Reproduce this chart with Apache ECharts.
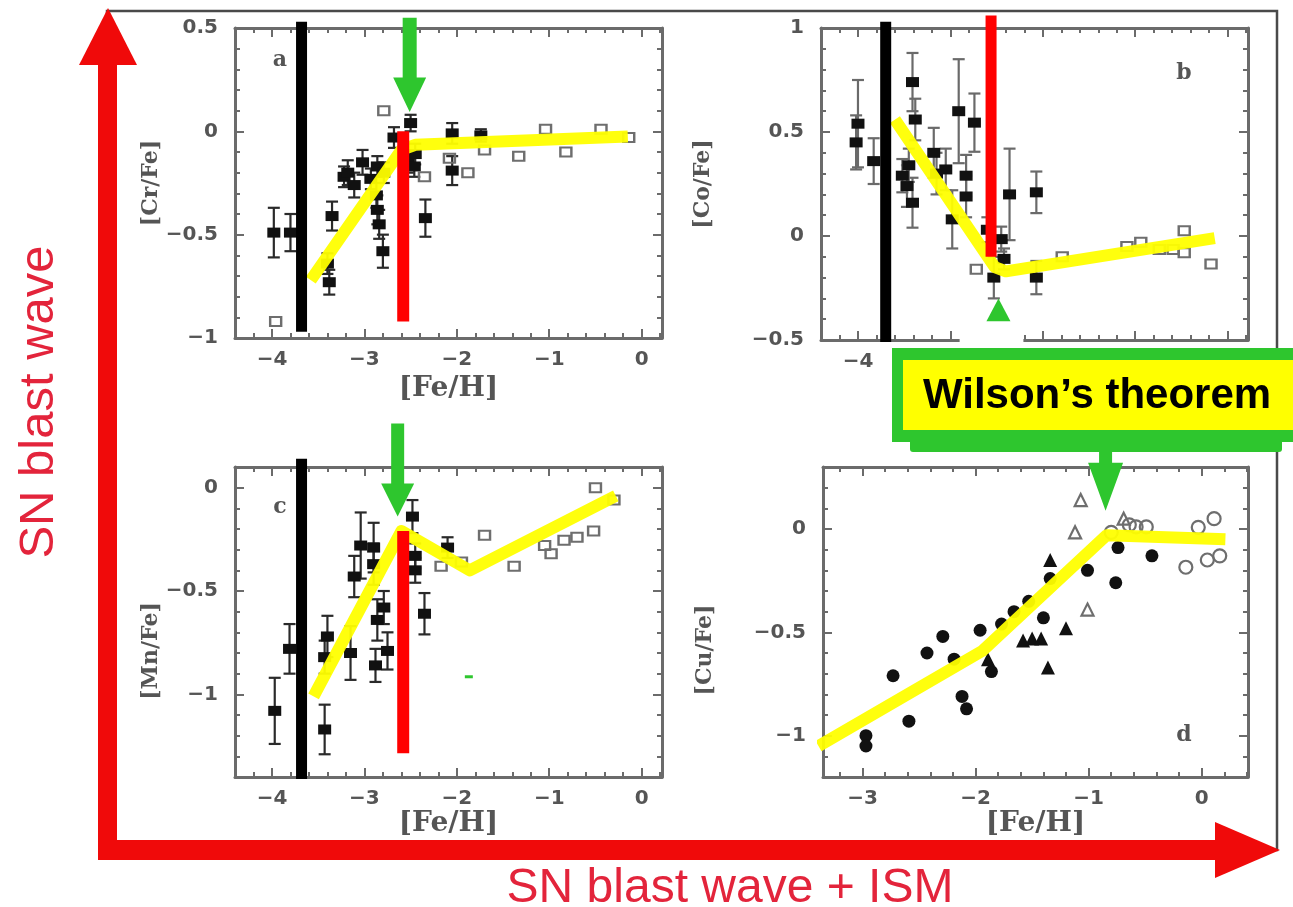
<!DOCTYPE html>
<html>
<head>
<meta charset="utf-8">
<script src="https://cdn.jsdelivr.net/npm/echarts@6/dist/echarts.min.js"></script>
<style>
  html, body { margin: 0; padding: 0; background: #ffffff; }
  #chart { width: 1293px; height: 907px; }
</style>
</head>
<body>
<div id="chart"></div>
<script>
// ---- Panel a: [Cr/Fe] vs [Fe/H]  (filled: [FeH, CrFe, err], open: [FeH, CrFe])
const crFilled = [
  [-3.98, -0.49, 0.12], [-3.80, -0.49, 0.09], [-3.38, -0.73, 0.06], [-3.40, -0.64, 0.05],
  [-3.35, -0.41, 0.07], [-3.22, -0.22, 0.05], [-3.18, -0.20, 0.06], [-3.02, -0.15, 0.06],
  [-3.11, -0.26, 0.06], [-2.93, -0.23, 0.05], [-2.86, -0.17, 0.05], [-2.79, -0.20, 0.05],
  [-2.87, -0.31, 0.06], [-2.86, -0.38, 0.07], [-2.84, -0.45, 0.07], [-2.80, -0.58, 0.08],
  [-2.68, -0.03, 0.05], [-2.50, 0.04, 0.04], [-2.53, -0.15, 0.05], [-2.45, -0.11, 0.05],
  [-2.46, -0.17, 0.05], [-2.34, -0.42, 0.09], [-2.05, -0.01, 0.05], [-2.05, -0.19, 0.07],
  [-1.74, -0.02, 0.03]
];
const crOpen = [
  [-3.96, -0.92], [-2.79, 0.10], [-2.35, -0.22], [-2.08, -0.13], [-1.88, -0.20],
  [-1.70, -0.09], [-1.33, -0.12], [-1.04, 0.01], [-0.82, -0.10], [-0.44, 0.01], [-0.14, -0.03]
];
const crTrend = [[-3.58, -0.72], [-2.60, -0.09], [-2.45, -0.065], [-0.15, -0.025]];

// ---- Panel b: [Co/Fe]
const coFilled = [
  [-4.00, 0.54, 0.21], [-4.02, 0.45, 0.13], [-3.83, 0.36, 0.11], [-3.41, 0.74, 0.14],
  [-3.38, 0.56, 0.10], [-3.18, 0.40, 0.12], [-3.15, 0.30, 0.10], [-3.45, 0.34, 0.08],
  [-3.52, 0.29, 0.08], [-3.47, 0.24, 0.10], [-3.41, 0.16, 0.12], [-2.91, 0.60, 0.25],
  [-2.74, 0.545, 0.14], [-3.05, 0.32, 0.10], [-2.83, 0.29, 0.10], [-2.83, 0.19, 0.10],
  [-2.98, 0.08, 0.14], [-2.60, 0.03, 0.06], [-2.45, -0.015, 0.06], [-2.42, -0.11, 0.05],
  [-2.53, -0.20, 0.10], [-2.36, 0.20, 0.22], [-2.07, 0.21, 0.10], [-2.07, -0.20, 0.08]
];
const coOpen = [
  [-2.72, -0.16], [-1.79, -0.10], [-1.09, -0.05], [-0.94, -0.03], [-0.74, -0.065],
  [-0.59, -0.065], [-0.47, 0.025], [-0.47, -0.08], [-0.18, -0.135]
];
const coTrend = [[-3.60, 0.56], [-2.52, -0.15], [-2.40, -0.17], [-0.14, -0.01]];

// ---- Panel c: [Mn/Fe]
const mnFilled = [
  [-3.97, -1.08, 0.16], [-3.81, -0.78, 0.12], [-3.43, -1.17, 0.12], [-3.40, -0.72, 0.10],
  [-3.43, -0.82, 0.08], [-3.15, -0.80, 0.13], [-3.11, -0.43, 0.10], [-3.04, -0.28, 0.16],
  [-2.90, -0.29, 0.12], [-2.90, -0.37, 0.10], [-2.86, -0.64, 0.10], [-2.79, -0.58, 0.08],
  [-2.75, -0.79, 0.09], [-2.88, -0.86, 0.08], [-2.48, -0.14, 0.08], [-2.45, -0.33, 0.06],
  [-2.45, -0.40, 0.06], [-2.35, -0.61, 0.10], [-2.10, -0.29, 0.05]
];
const mnOpen = [
  [-2.17, -0.38], [-1.95, -0.36], [-1.70, -0.23], [-1.38, -0.38], [-1.05, -0.28],
  [-0.98, -0.32], [-0.84, -0.255], [-0.70, -0.24], [-0.52, -0.21], [-0.50, 0.00], [-0.30, -0.06]
];
const mnTrend = [[-3.55, -1.01], [-2.60, -0.21], [-1.86, -0.40], [-0.28, -0.04]];

// ---- Panel d: [Cu/Fe]
const cuCircles = [
  [-2.97, -1.00], [-2.97, -1.05], [-2.73, -0.71], [-2.59, -0.93], [-2.43, -0.60],
  [-2.29, -0.52], [-2.19, -0.63], [-2.12, -0.81], [-2.08, -0.87], [-1.96, -0.49],
  [-1.86, -0.69], [-1.77, -0.46], [-1.66, -0.40], [-1.53, -0.35], [-1.40, -0.43],
  [-1.34, -0.24], [-1.01, -0.20], [-0.76, -0.26], [-0.74, -0.09], [-0.44, -0.13]
];
const cuTriangles = [
  [-1.89, -0.63], [-1.58, -0.54], [-1.50, -0.53], [-1.42, -0.53], [-1.36, -0.67],
  [-1.34, -0.15], [-1.20, -0.48]
];
const cuOpenTriangles = [[-1.07, 0.14], [-1.12, -0.016], [-1.01, -0.39], [-0.69, 0.05]];
const cuOpenCircles = [
  [-0.80, -0.016], [-0.64, 0.02], [-0.58, 0.01], [-0.49, 0.01], [-0.14, -0.185],
  [-0.03, 0.008], [0.05, -0.15], [0.11, 0.05], [0.16, -0.13]
];
const cuTrend = [[-3.39, -1.05], [-1.94, -0.59], [-0.84, -0.03], [0.21, -0.05]];

// ---- Tick labels
const feTicksWide = [-4, -3, -2, -1, 0];
const feTicksCu = [-3, -2, -1, 0];
const crTicks = [-1, -0.5, 0, 0.5];
const coTicks = [-0.5, 0, 0.5, 1];
const mnTicks = [-1, -0.5, 0];
const cuTicks = [-1, -0.5, 0];

// ---- Guide lines: [FeH, from, to]
const blackCutA = [[-3.68, 0.53, -0.97]];
const blackCutB = [[-3.70, 1.03, -0.51]];
const blackCutC = [[-3.68, 0.14, -1.41]];
const redCutA = [[-2.58, 0.00, -0.92]];
const redCutB = [[-2.56, 1.06, -0.10]];
const redCutC = [[-2.58, -0.21, -1.285]];
// Arrows: [FeH, tail, head base, tip]
const arrowA = [[-2.51, 0.55, 0.26, 0.094]];
const arrowB = [[-2.48, -0.41, -0.41, -0.30]];
const arrowC = [[-2.64, 0.31, 0.02, -0.14]];
const arrowD = [[-0.85, 0.417, 0.32, 0.088]];
const patchB = [[-2.90, -0.41, -2.21, -0.525]];
const dashC = [[-1.87, -0.915]];

const AX = '#6b6b6b';
const LABEL = '#555555';

function steps(min, max, step) {
  const out = [];
  for (let k = Math.ceil(min / step - 1e-9); k * step <= max + 1e-9; k++) out.push(+(k * step).toFixed(6));
  return out;
}
const fmt = v => (v < 0 ? '\u2212' : '') + String(Math.abs(v));

const hiddenLine = { show: false, onZero: false };
const frameLine = { show: true, onZero: false, lineStyle: { color: AX, width: 3 } };
const tick = (vals, len) => ({ show: true, inside: true, length: len, customValues: vals, lineStyle: { color: AX, width: 2 } });

function xAxesFor(g, min, max, labels, nameGap) {
  const base = { type: 'value', gridIndex: g, min, max, splitLine: { show: false } };
  const minor = steps(min, max, 0.2);
  return [
    Object.assign({}, base, {
      position: 'bottom', axisLine: frameLine, axisTick: tick(labels, 9),
      axisLabel: { show: true, customValues: labels, formatter: fmt, margin: 12, color: LABEL,
        fontFamily: 'DejaVu Sans', fontWeight: 'bold', fontSize: 20 },
      name: '[Fe/H]', nameLocation: 'middle', nameGap,
      nameTextStyle: { color: LABEL, fontFamily: 'DejaVu Serif', fontWeight: 'bold', fontSize: 28 }
    }),
    Object.assign({}, base, { position: 'bottom', axisLine: hiddenLine, axisTick: tick(minor, 5), axisLabel: { show: false } }),
    Object.assign({}, base, { position: 'top', axisLine: frameLine, axisTick: tick(labels, 9), axisLabel: { show: false } }),
    Object.assign({}, base, { position: 'top', axisLine: hiddenLine, axisTick: tick(minor, 5), axisLabel: { show: false } })
  ];
}
function yAxesFor(g, min, max, labels, name, nameGap, namePad) {
  const base = { type: 'value', gridIndex: g, min, max, splitLine: { show: false } };
  const minor = steps(min, max, 0.1);
  return [
    Object.assign({}, base, {
      position: 'left', axisLine: frameLine, axisTick: tick(labels, 9),
      axisLabel: { show: true, customValues: labels, formatter: fmt, margin: 17, color: LABEL,
        fontFamily: 'DejaVu Sans', fontWeight: 'bold', fontSize: 20 },
      name, nameLocation: 'middle', nameGap,
      nameTextStyle: { color: LABEL, fontFamily: 'DejaVu Serif', fontWeight: 'bold', fontSize: 22, padding: namePad }
    }),
    Object.assign({}, base, { position: 'left', axisLine: hiddenLine, axisTick: tick(minor, 5), axisLabel: { show: false } }),
    Object.assign({}, base, { position: 'right', axisLine: frameLine, axisTick: tick(labels, 9), axisLabel: { show: false } }),
    Object.assign({}, base, { position: 'right', axisLine: hiddenLine, axisTick: tick(minor, 5), axisLabel: { show: false } })
  ];
}

function onGrid(g, s) { return Object.assign({ xAxisIndex: g * 4, yAxisIndex: g * 4 }, s); }

function errorBars(g, data, color) {
  return onGrid(g, {
    type: 'custom', data, z: 2, silent: true,
    renderItem(params, api) {
      const x = api.value(0), y = api.value(1), e = api.value(2);
      const hi = api.coord([x, y + e]), lo = api.coord([x, y - e]);
      const st = { stroke: color, lineWidth: 2.2 };
      const cap = 6;
      return { type: 'group', children: [
        { type: 'line', shape: { x1: hi[0], y1: hi[1], x2: lo[0], y2: lo[1] }, style: st },
        { type: 'line', shape: { x1: hi[0] - cap, y1: hi[1], x2: hi[0] + cap, y2: hi[1] }, style: st },
        { type: 'line', shape: { x1: lo[0] - cap, y1: lo[1], x2: lo[0] + cap, y2: lo[1] }, style: st }
      ] };
    }
  });
}
function filledMarks(g, data, symbol, size) {
  return onGrid(g, { type: 'scatter', data, symbol, symbolSize: size, z: 3, silent: true,
    itemStyle: { color: '#111111', opacity: 1 } });
}
function openMarks(g, data, symbol, size) {
  return onGrid(g, { type: 'scatter', data, symbol, symbolSize: size, z: 3, silent: true,
    itemStyle: { color: 'rgba(255,255,255,0)', borderColor: '#6e6e6e', borderWidth: 2.2, opacity: 1 } });
}
function trend(g, data) {
  return onGrid(g, { type: 'line', data, symbol: 'none', z: 4, clip: false, silent: true,
    lineStyle: { color: '#ffff00', width: 12, join: 'round', cap: 'butt', opacity: 0.95 } });
}
function cut(g, data, color, width) {
  return onGrid(g, {
    type: 'custom', data, z: 5, silent: true,
    renderItem(params, api) {
      const a = api.coord([api.value(0), api.value(1)]);
      const b = api.coord([api.value(0), api.value(2)]);
      return { type: 'rect', shape: { x: a[0] - width / 2, y: Math.min(a[1], b[1]), width, height: Math.abs(b[1] - a[1]) },
        style: { fill: color } };
    }
  });
}
function arrow(g, data, shaftW, headW) {
  return onGrid(g, {
    type: 'custom', data, z: 6, silent: true,
    renderItem(params, api) {
      const x = api.value(0);
      const t = api.coord([x, api.value(1)]), b = api.coord([x, api.value(2)]), p = api.coord([x, api.value(3)]);
      const cx = t[0], s = shaftW / 2, h = headW / 2;
      return { type: 'polygon', shape: { points: [
        [cx - s, t[1]], [cx + s, t[1]], [cx + s, b[1]], [cx + h, b[1]], [p[0], p[1]], [cx - h, b[1]], [cx - s, b[1]]
      ] }, style: { fill: '#2ec62e' } };
    }
  });
}
function patch(g, data) {
  return onGrid(g, {
    type: 'custom', data, z: 5, silent: true,
    renderItem(params, api) {
      const a = api.coord([api.value(0), api.value(1)]);
      const b = api.coord([api.value(2), api.value(3)]);
      return { type: 'rect', shape: { x: a[0], y: a[1], width: b[0] - a[0], height: b[1] - a[1] }, style: { fill: '#ffffff' } };
    }
  });
}
function dash(g, data) {
  return onGrid(g, {
    type: 'custom', data, z: 6, silent: true,
    renderItem(params, api) {
      const c = api.coord([api.value(0), api.value(1)]);
      return { type: 'rect', shape: { x: c[0] - 4, y: c[1] - 1.5, width: 8, height: 3 }, style: { fill: '#2ec62e' } };
    }
  });
}

const grids = [
  { left: 235, top: 28, width: 427, height: 310 },
  { left: 821, top: 28, width: 427, height: 312 },
  { left: 235, top: 467, width: 427, height: 310 },
  { left: 823, top: 467, width: 425, height: 310 }
];

const xAxis = [].concat(
  xAxesFor(0, -4.4, 0.22, feTicksWide, 37),
  xAxesFor(1, -4.4, 0.22, feTicksWide, 37),
  xAxesFor(2, -4.4, 0.22, feTicksWide, 33),
  xAxesFor(3, -3.35, 0.41, feTicksCu, 33)
);
const yAxis = [].concat(
  yAxesFor(0, -1, 0.5, crTicks, '[Cr/Fe]', 71, [0, 0, 0, 0]),
  yAxesFor(1, -0.5, 1, coTicks, '[Co/Fe]', 107, [0, 0, 0, 0]),
  yAxesFor(2, -1.4, 0.1, mnTicks, '[Mn/Fe]', 71, [0, 58, 0, 0]),
  yAxesFor(3, -1.2, 0.3, cuTicks, '[Cu/Fe]', 107, [0, 56, 0, 0])
);

const series = [
  // a
  errorBars(0, crFilled, '#2a2a2a'),
  filledMarks(0, crFilled, 'rect', [13, 10]),
  openMarks(0, crOpen, 'rect', [11, 9]),
  trend(0, crTrend),
  cut(0, blackCutA, '#000000', 11),
  cut(0, redCutA, '#ff0000', 12),
  arrow(0, arrowA, 14, 33),
  // b
  errorBars(1, coFilled, '#6a6a6a'),
  filledMarks(1, coFilled, 'rect', [13, 10]),
  openMarks(1, coOpen, 'rect', [11, 9]),
  trend(1, coTrend),
  cut(1, blackCutB, '#000000', 11),
  cut(1, redCutB, '#ff0000', 11),
  patch(1, patchB),
  arrow(1, arrowB, 0, 24),
  // c
  errorBars(2, mnFilled, '#2a2a2a'),
  filledMarks(2, mnFilled, 'rect', [13, 10]),
  openMarks(2, mnOpen, 'rect', [11, 9]),
  trend(2, mnTrend),
  cut(2, blackCutC, '#000000', 11),
  cut(2, redCutC, '#ff0000', 12),
  arrow(2, arrowC, 13, 33),
  dash(2, dashC),
  // d
  filledMarks(3, cuCircles, 'circle', 13),
  filledMarks(3, cuTriangles, 'triangle', 14),
  openMarks(3, cuOpenTriangles, 'triangle', 12),
  openMarks(3, cuOpenCircles, 'circle', 13),
  trend(3, cuTrend),
  arrow(3, arrowD, 13, 35)
];

const RED = '#f00a0a';
const letter = (t, x, y) => ({ type: 'text', z: 10, x, y,
  style: { text: t, fill: '#555', fontFamily: 'DejaVu Serif', fontWeight: 'bold', fontSize: 22, align: 'center', verticalAlign: 'middle' } });
const graphic = { elements: [
  // outer frame
  { type: 'rect', z: 1, shape: { x: 107, y: 11, width: 1170, height: 839 }, style: { fill: 'none', stroke: '#4a4a4a', lineWidth: 2.5 } },
  // panel letters
  letter('a', 280, 60), letter('b', 1184, 73), letter('c', 280, 507), letter('d', 1184, 735),
  // big red axes
  { type: 'rect', z: 50, shape: { x: 98, y: 60, width: 19, height: 800 }, style: { fill: RED } },
  { type: 'polygon', z: 50, shape: { points: [[108, 8], [137, 65], [79, 65]] }, style: { fill: RED } },
  { type: 'rect', z: 50, shape: { x: 98, y: 840, width: 1120, height: 20 }, style: { fill: RED } },
  { type: 'polygon', z: 50, shape: { points: [[1215, 822], [1280, 850], [1215, 878]] }, style: { fill: RED } },
  { type: 'text', z: 50, x: 39, y: 402, rotation: Math.PI / 2,
    style: { text: 'SN blast wave', fill: '#e3243b', fontFamily: 'Liberation Sans', fontSize: 49, align: 'center', verticalAlign: 'middle' } },
  { type: 'text', z: 50, x: 730, y: 889,
    style: { text: 'SN blast wave + ISM', fill: '#e3243b', fontFamily: 'Liberation Sans', fontSize: 48, align: 'center', verticalAlign: 'middle' } },
  // callout box
  { type: 'rect', z: 60, shape: { x: 910, y: 372, width: 372, height: 80, r: 3 }, style: { fill: '#2ec62e' } },
  { type: 'rect', z: 61, shape: { x: 892, y: 348, width: 420, height: 94 }, style: { fill: '#2ec62e' } },
  { type: 'rect', z: 62, shape: { x: 903, y: 360, width: 400, height: 70 }, style: { fill: '#ffff00' } },
  { type: 'text', z: 63, x: 923, y: 396,
    style: { text: 'Wilson\u2019s theorem', fill: '#000', fontFamily: 'Liberation Sans', fontWeight: 'bold', fontSize: 42, align: 'left', verticalAlign: 'middle' } }
] };

const chart = echarts.init(document.getElementById('chart'), null, { renderer: 'canvas' });
chart.setOption({
  animation: false,
  backgroundColor: '#ffffff',
  grid: grids,
  xAxis,
  yAxis,
  series,
  graphic
});
</script>
</body>
</html>
